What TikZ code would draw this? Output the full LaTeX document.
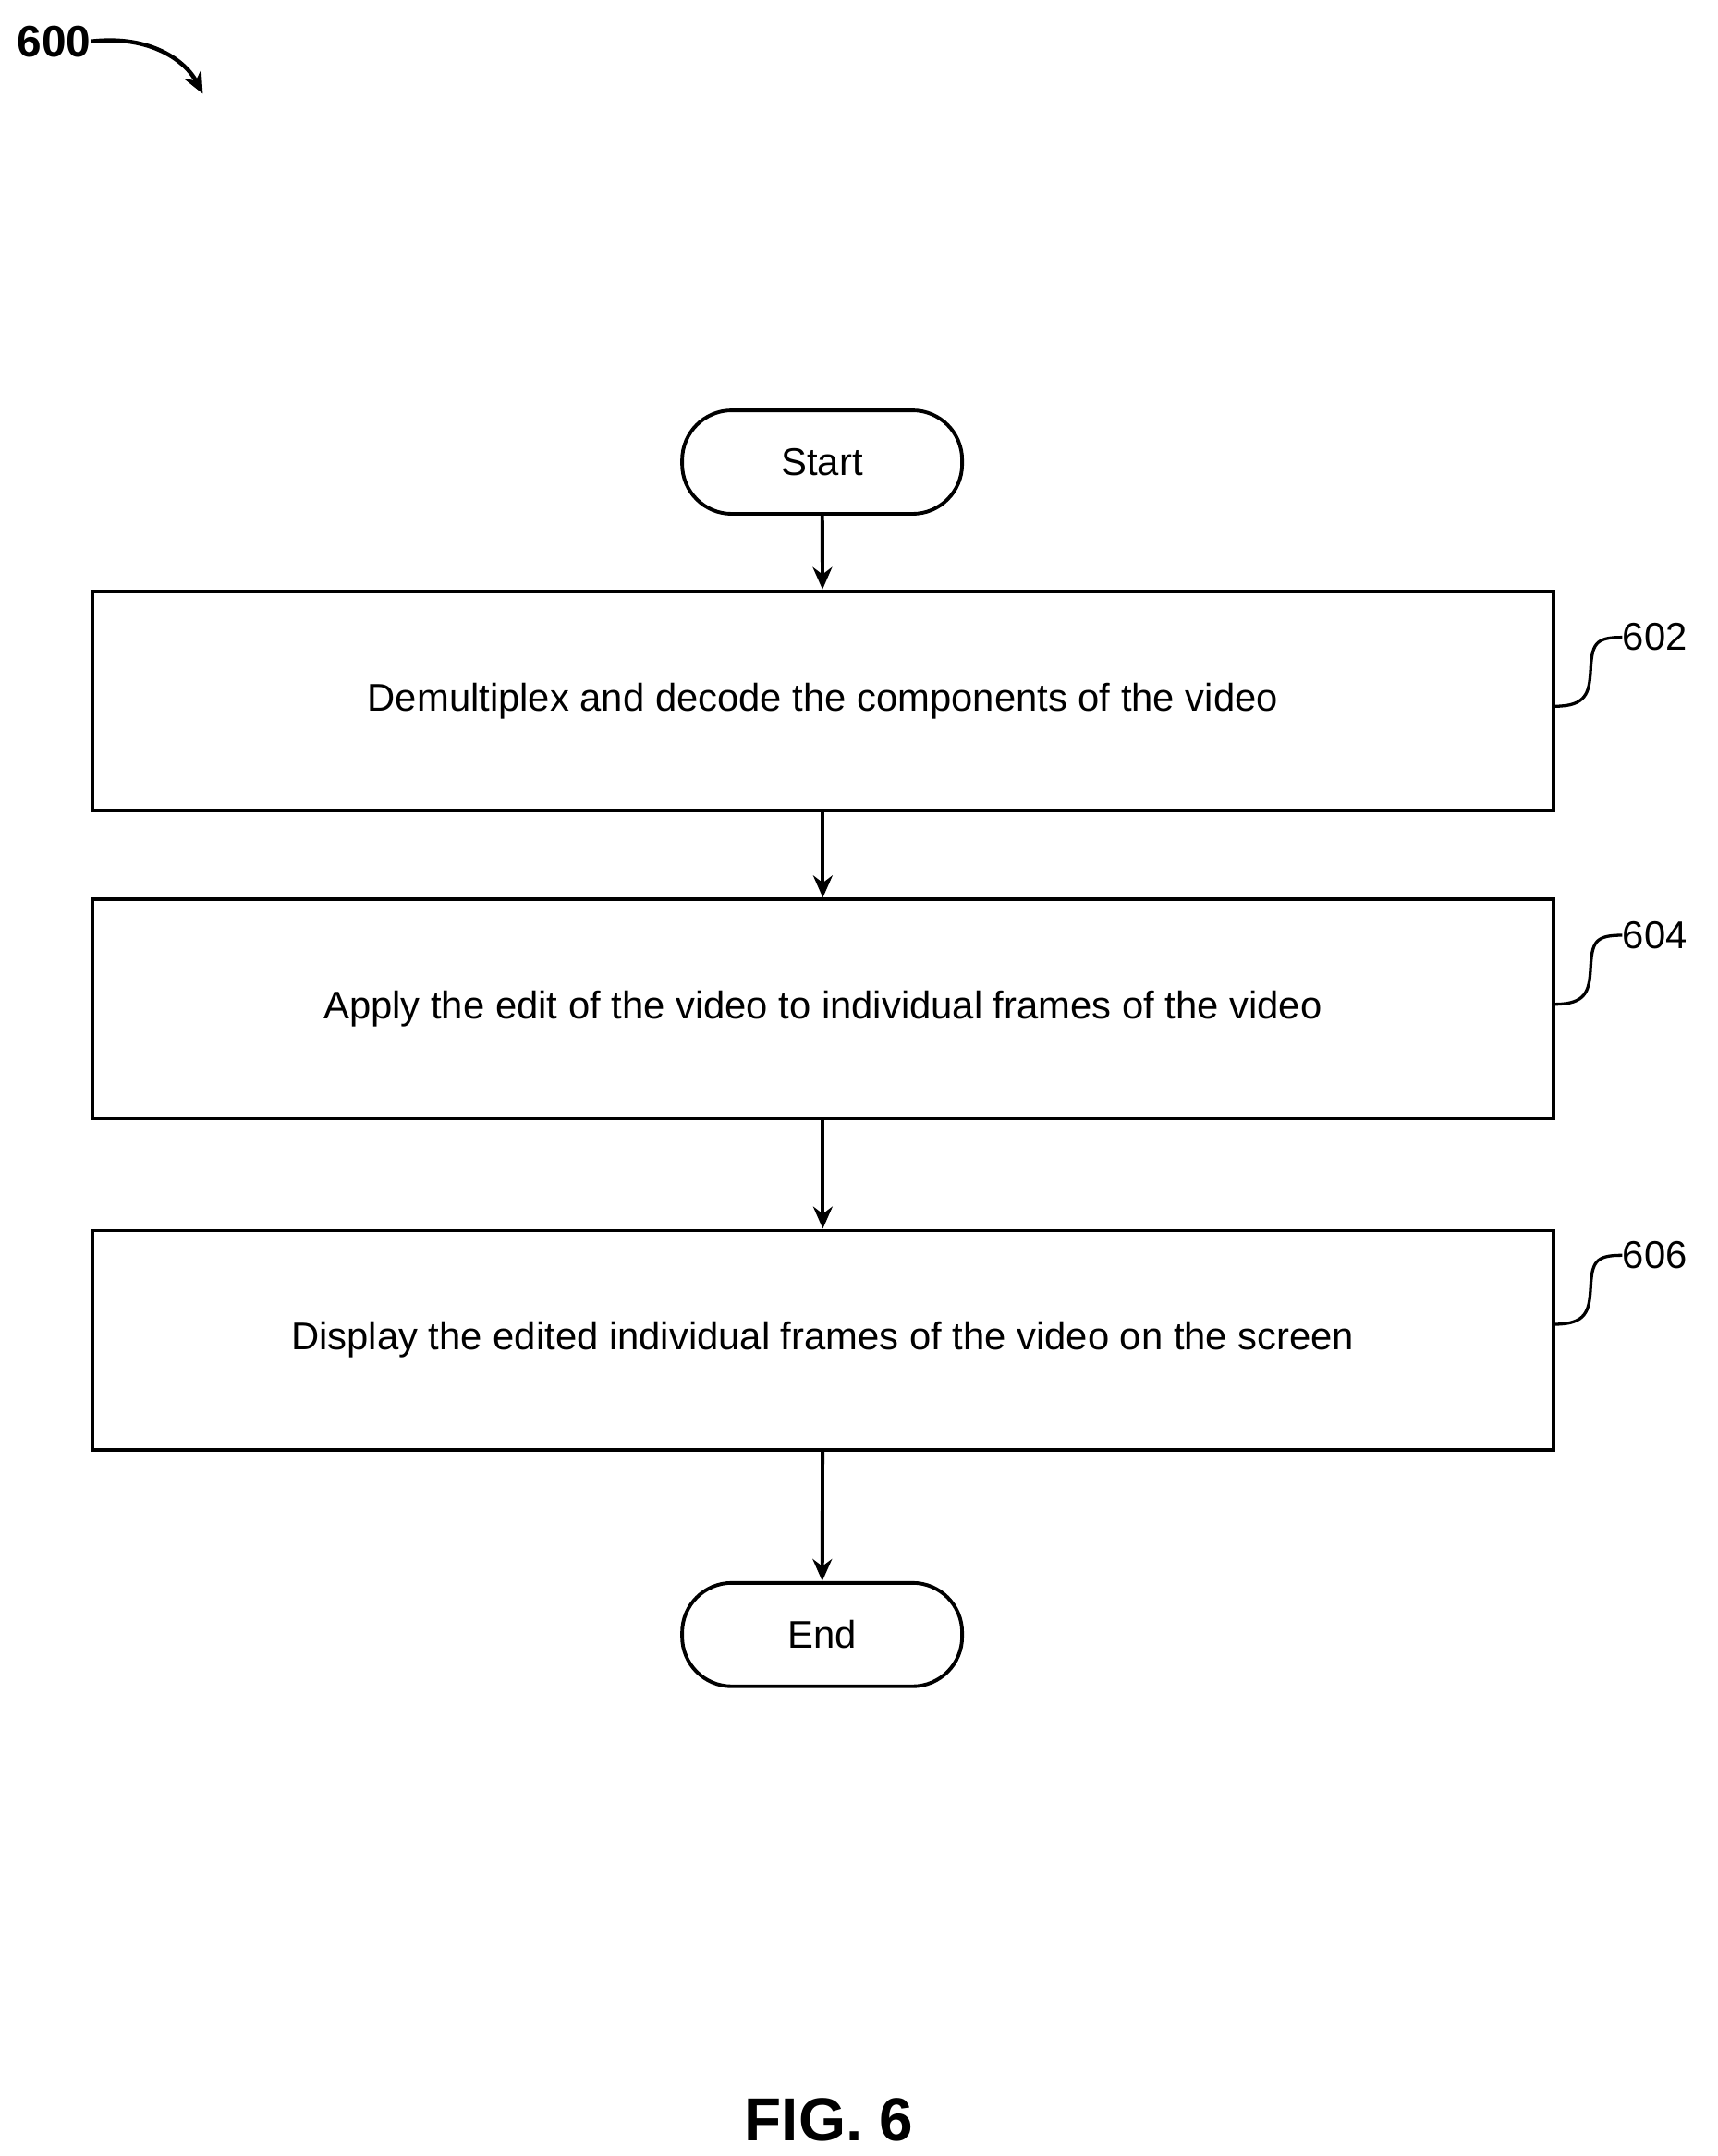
\documentclass[tikz,border=0pt]{standalone}
\usepackage{fontspec}
\setmainfont{Liberation Sans}
\usetikzlibrary{arrows.meta,positioning}
\begin{document}
\begin{tikzpicture}[x=0.5pt,y=-0.5pt,
    every node/.style={font=\fontsize{14}{16}\selectfont},
    stepbox/.style={draw,line width=1.3pt,minimum width=529.5pt,minimum height=79.5pt,inner sep=0pt},
    term/.style={draw,line width=1.3pt,rounded corners=18pt,minimum width=101.5pt,minimum height=37.5pt},
    flow/.style={-{Stealth[length=8pt,width=7pt]},line width=1.3pt},
    tag/.style={line width=1.1pt}]
    % Rahmen
    \useasboundingbox (0,0) rectangle (1245,1563);

    % Knoten
    \node[term] (start) at (596,335) {Start};
    \node[stepbox] (s602) at (596.5,508) {Demultiplex and decode the components of the video};
    \node[stepbox] (s604) at (596.5,731.5) {Apply the edit of the video to individual frames of the video};
    \node[stepbox] (s606) at (596.5,971.5) {Display the edited individual frames of the video on the screen};
    \node[term] (end) at (596,1185) {End};

    % Pfeile
    \draw[flow] (start) -- (s602);
    \draw[flow] (s602) -- (s604);
    \draw[flow] (s604) -- (s606);
    \draw[flow] (s606) -- (end);

    % Bezugszeichen
    \foreach \n/\y in {602/462,604/678,606/910}{
        \node[anchor=west,inner sep=0pt] (l\n) at (1176,\y) {\n};
        \draw[tag] (s\n.east|-0,\y+50) .. controls (1150,\y+50) and (1152,\y+40) .. (1153,\y+25)
            .. controls (1154,\y+5) and (1156,\y) .. (l\n.west);
    }

    % Titel
    \node[font=\bfseries\fontsize{16}{18}\selectfont,anchor=west,inner sep=0pt] (fig) at (12,30) {600};
    \coordinate (tip) at (147,68);
    \draw[flow,line width=1.5pt] (fig.east) .. controls (110,25) and (135,45) .. (tip);
    \node[font=\bfseries\fontsize{22}{24}\selectfont] (cap) at (601,1537) {FIG. 6};
\end{tikzpicture}
\end{document}
